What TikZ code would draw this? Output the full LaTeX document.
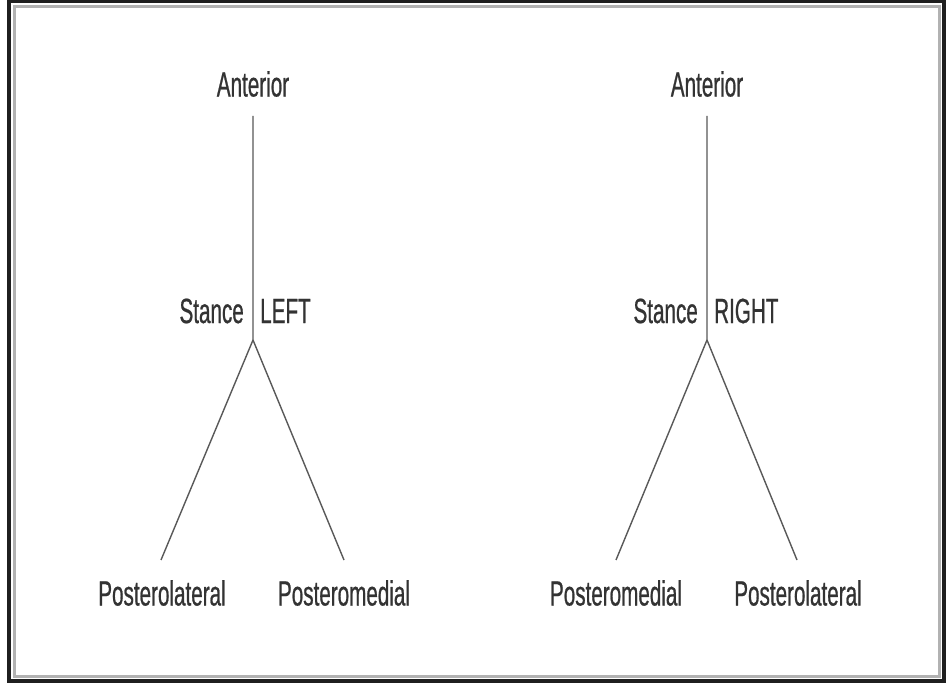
\documentclass[tikz,border=0pt]{standalone}
\usepackage{fontspec}
\setmainfont[FakeStretch=0.59,FakeBold=0.6]{Liberation Sans}
\begin{document}
\begin{tikzpicture}[x=1pt,y=-1pt,
  lbl/.style={font=\fontsize{35}{38}\selectfont, text=black!80, inner sep=0pt},
  branch/.style={draw=black!65, line width=1.4pt}]
\useasboundingbox (0,0) rectangle (946,684);
\fill[white] (0,0) rectangle (946,684);
% frame
\draw[black!88, line width=4pt] (9,1.5) rectangle (944,681);
\draw[black!30, line width=3pt] (14,6.5) rectangle (939,676);
% left tree
\node[lbl] (antL) at (253,84) {Anterior};
\node[lbl, anchor=east] (stL) at (244,311) {Stance};
\node[lbl, anchor=west] (leftL) at (260,311) {LEFT};
\node[lbl] (plL) at (162,593) {Posterolateral};
\node[lbl] (pmL) at (344,593) {Posteromedial};
\coordinate (topL) at (253,116);
\coordinate (jL) at (253,340);
\coordinate (blL) at (161,560);
\coordinate (brL) at (344,560);
\draw[branch] (topL) -- (jL) -- (blL);
\draw[branch] (jL) -- (brL);
% right tree
\node[lbl] (antR) at (707,84) {Anterior};
\node[lbl, anchor=east] (stR) at (698,311) {Stance};
\node[lbl, anchor=west] (rightR) at (714,311) {RIGHT};
\node[lbl] (pmR) at (616,593) {Posteromedial};
\node[lbl] (plR) at (798,593) {Posterolateral};
\coordinate (topR) at (707,116);
\coordinate (jR) at (707,340);
\coordinate (blR) at (616,560);
\coordinate (brR) at (797,560);
\draw[branch] (topR) -- (jR) -- (blR);
\draw[branch] (jR) -- (brR);
\end{tikzpicture}
\end{document}
